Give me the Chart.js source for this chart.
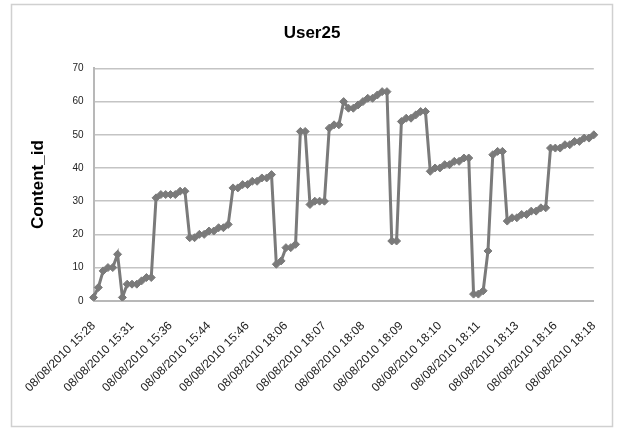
<!DOCTYPE html>
<html>
<head>
<meta charset="utf-8">
<script src="https://cdn.jsdelivr.net/npm/chart.js@4"></script>
<style>
  html, body { margin: 0; padding: 0; background: #ffffff; }
  #wrap { position: relative; width: 622px; height: 432px; }
</style>
</head>
<body>
<div id="wrap"><canvas id="c" width="622" height="432"></canvas></div>
<script>
// ---- data ----
const title = "User25";
const yTitle = "Content_id";
const tickLabels = [
  "08/08/2010 15:28", "08/08/2010 15:31", "08/08/2010 15:36", "08/08/2010 15:44",
  "08/08/2010 15:46", "08/08/2010 18:06", "08/08/2010 18:07", "08/08/2010 18:08",
  "08/08/2010 18:09", "08/08/2010 18:10", "08/08/2010 18:11", "08/08/2010 18:13",
  "08/08/2010 18:16", "08/08/2010 18:18"
];
const labelEvery = 8;
const contentId = [
  1, 4, 9, 10, 10, 14, 1, 5, 5, 5,
  6, 7, 7, 31, 32, 32, 32, 32, 33, 33,
  19, 19, 20, 20, 21, 21, 22, 22, 23, 34,
  34, 35, 35, 36, 36, 37, 37, 38, 11, 12,
  16, 16, 17, 51, 51, 29, 30, 30, 30, 52,
  53, 53, 60, 58, 58, 59, 60, 61, 61, 62,
  63, 63, 18, 18, 54, 55, 55, 56, 57, 57,
  39, 40, 40, 41, 41, 42, 42, 43, 43, 2,
  2, 3, 15, 44, 45, 45, 24, 25, 25, 26,
  26, 27, 27, 28, 28, 46, 46, 46, 47, 47,
  48, 48, 49, 49, 50
];
const categories = contentId.map((_, i) => i);

const frame = {
  id: 'frame',
  beforeDraw(chart) {
    const ctx = chart.ctx;
    ctx.save();
    ctx.strokeStyle = '#d0d0d0';
    ctx.lineWidth = 1.5;
    ctx.strokeRect(11.5, 4.5, 601, 422);
    ctx.restore();
  }
};

new Chart(document.getElementById('c'), {
  type: 'line',
  data: {
    labels: categories,
    datasets: [{
      data: contentId,
      borderColor: '#7a7a7a',
      backgroundColor: '#7a7a7a',
      borderWidth: 3,
      pointStyle: 'rectRot',
      pointRadius: 4,
      pointBorderWidth: 1,
      pointBorderColor: '#7a7a7a',
      pointBackgroundColor: '#7a7a7a',
      tension: 0,
      fill: false
    }]
  },
  options: {
    responsive: false,
    animation: false,
    devicePixelRatio: 1,
    layout: { padding: { left: 28, right: 26, top: 20, bottom: 19 } },
    plugins: {
      legend: { display: false },
      tooltip: { enabled: false },
      title: {
        display: true,
        text: title,
        color: '#000000',
        font: { family: 'Liberation Sans', size: 17, weight: 'bold' },
        padding: { top: 3, bottom: 25 }
      }
    },
    scales: {
      x: {
        type: 'category',
        offset: false,
        grid: { display: false, drawTicks: false },
        border: { display: true, color: '#b8b8b8', width: 2 },
        ticks: {
          autoSkip: false,
          maxRotation: 45,
          minRotation: 45,
          padding: 18,
          color: '#222222',
          font: { family: 'Liberation Sans', size: 12 },
          callback: (v, i) => (i % labelEvery === 0 ? tickLabels[i / labelEvery] : null)
        }
      },
      y: {
        min: 0,
        max: 70,
        grid: { color: '#c4c4c4', lineWidth: 1.5, drawTicks: false },
        border: { display: true, color: '#b8b8b8', width: 2 },
        ticks: {
          stepSize: 10,
          padding: 10,
          color: '#222222',
          font: { family: 'Liberation Sans', size: 10 }
        },
        title: {
          display: true,
          text: yTitle,
          color: '#000000',
          font: { family: 'Liberation Sans', size: 17, weight: 'bold' },
          padding: { top: 0, bottom: 14 }
        }
      }
    }
  },
  plugins: [frame]
});
</script>
</body>
</html>
